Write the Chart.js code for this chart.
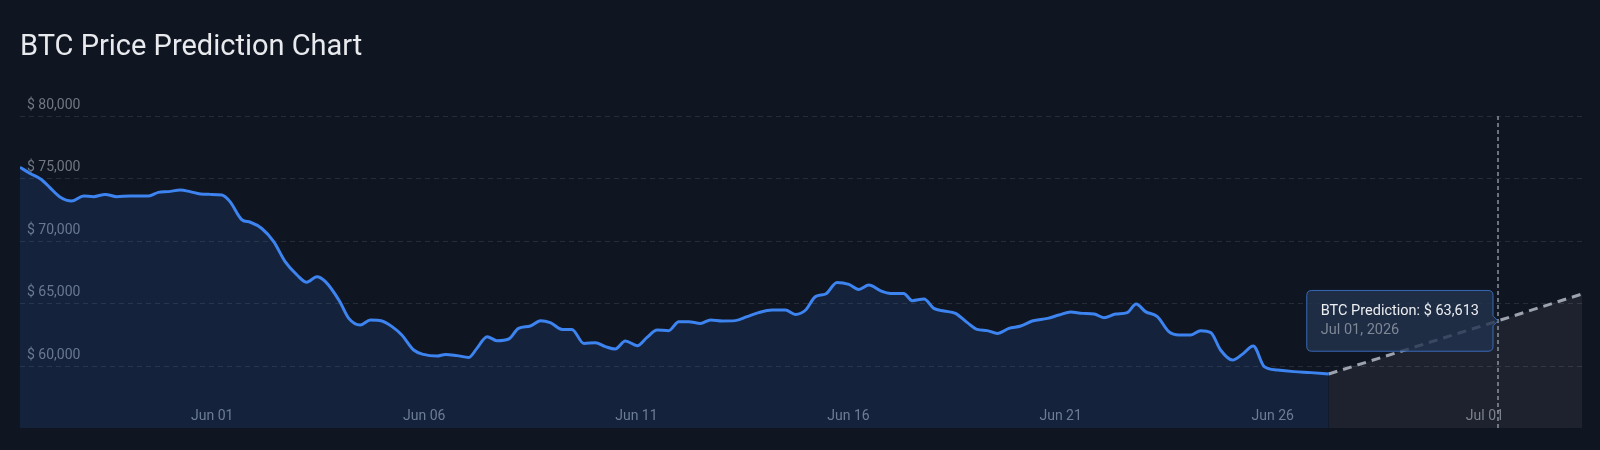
<!DOCTYPE html>
<html>
<head>
<meta charset="utf-8">
<title>BTC Price Prediction Chart</title>
<script src="https://cdn.jsdelivr.net/npm/chart.js@4.4.1/dist/chart.umd.min.js"></script>
<style>
  html, body { margin: 0; padding: 0; background: #0f1521; }
  #wrap { position: relative; width: 1600px; height: 450px; }
  #title {
    position: absolute; left: 20px; top: 31px;
    font: 400 29px/29px Roboto, sans-serif; color: #e8eaee;
  }
  canvas { position: absolute; left: 0; top: 0; }
</style>
</head>
<body>
<div id="wrap">
  <canvas id="chart" width="1600" height="450"></canvas>
  <div id="title">BTC Price Prediction Chart</div>
</div>
<script>
// x values are days counted from Jun 01 00:00 (negative = late May)
const histDay = [
  -4.53, -4.29, -4.02, -3.82, -3.58, -3.31, -3.03, -2.80, -2.52, -2.25,
  -1.93, -1.50, -1.27, -1.03, -0.75, -0.52, -0.28, -0.05, 0.23, 0.42,
  0.70, 0.90, 1.17, 1.45, 1.72, 2.00, 2.23, 2.47, 2.67, 3.00,
  3.22, 3.49, 3.73, 4.00, 4.24, 4.47, 4.75, 4.98, 5.30, 5.50,
  5.77, 6.05, 6.24, 6.48, 6.71, 6.99, 7.22, 7.50, 7.74, 7.97,
  8.25, 8.48, 8.76, 9.03, 9.27, 9.50, 9.74, 10.02, 10.25, 10.49,
  10.76, 11.00, 11.23, 11.51, 11.75, 12.02, 12.33, 12.61, 12.88, 13.20,
  13.51, 13.75, 13.99, 14.22, 14.46, 14.73, 15.01, 15.24, 15.48, 15.75,
  15.99, 16.30, 16.50, 16.78, 17.01, 17.25, 17.52, 17.80, 18.03, 18.27,
  18.51, 18.78, 19.06, 19.33, 19.69, 19.96, 20.24, 20.51, 20.79, 21.02,
  21.30, 21.57, 21.78, 22.00, 22.28, 22.55, 22.79, 23.07, 23.30, 23.54,
  23.77, 24.05, 24.28, 24.54, 24.80, 25.11, 25.50, 25.90, 26.32
];
const histPrice = [
  75900, 75400, 74900, 74250, 73500, 73200, 73600, 73550, 73730, 73550,
  73600, 73600, 73890, 73950, 74080, 73950, 73760, 73730, 73680, 73150,
  71700, 71500, 71000, 69950, 68350, 67280, 66700, 67150, 66750, 65200,
  63810, 63280, 63680, 63600, 63150, 62480, 61280, 60930, 60800, 60930,
  60830, 60690, 61410, 62350, 62030, 62160, 63010, 63200, 63630, 63470,
  62930, 62930, 61810, 61870, 61550, 61360, 62000, 61630, 62290, 62880,
  62830, 63550, 63550, 63410, 63680, 63600, 63630, 63950, 64270, 64480,
  64480, 64130, 64480, 65550, 65760, 66690, 66530, 66130, 66480, 66030,
  65810, 65810, 65230, 65360, 64610, 64400, 64210, 63470, 62930, 62830,
  62610, 63010, 63200, 63600, 63810, 64080, 64320, 64210, 64160, 63870,
  64160, 64270, 64960, 64350, 63950, 62750, 62480, 62480, 62830, 62670,
  61280, 60480, 60930, 61600, 59950, 59680, 59550, 59470, 59360
];

const predDay = [26.32, 30.31, 32.29];
const predPrice = [59360, 63613, 65760];
const predDates = ['Jun 27, 2026', 'Jul 01, 2026', 'Jul 03, 2026'];

const xTickDays = [0, 5, 10, 15, 20, 25, 30];
const xTickLabels = ['Jun 01', 'Jun 06', 'Jun 11', 'Jun 16', 'Jun 21', 'Jun 26', 'Jul 01'];
const yTicks = [60000, 65000, 70000, 75000, 80000];

const fmt = v => '$ ' + Math.round(v).toLocaleString('en-US');

Chart.defaults.font.family = 'Roboto';

// dashed vertical line under the active tooltip point
const crosshair = {
  id: 'crosshair',
  afterDatasetsDraw(chart) {
    const act = chart.tooltip.getActiveElements();
    if (!act.length) return;
    const x = act[0].element.x;
    const { top, bottom } = chart.chartArea;
    const ctx = chart.ctx;
    ctx.save();
    ctx.strokeStyle = '#8d939c';
    ctx.lineWidth = 1.5;
    ctx.setLineDash([4, 3]);
    ctx.beginPath();
    ctx.moveTo(x, top);
    ctx.lineTo(x, bottom);
    ctx.stroke();
    ctx.restore();
  }
};

const chart = new Chart(document.getElementById('chart'), {
  type: 'line',
  data: {
    datasets: [{
      label: 'BTC Price',
      data: histDay.map((d, i) => ({ x: d, y: histPrice[i] })),
      borderColor: '#3d84f0',
      borderWidth: 3,
      backgroundColor: 'rgba(59,130,246,0.12)',
      fill: 'start',
      pointRadius: 0,
      pointHoverRadius: 0,
      cubicInterpolationMode: 'monotone'
    }, {
      label: 'BTC Prediction',
      data: predDay.map((d, i) => ({ x: d, y: predPrice[i] })),
      borderColor: '#9ca3af',
      borderWidth: 3,
      borderDash: [9, 6],
      backgroundColor: 'rgba(255,255,255,0.06)',
      fill: 'start',
      pointRadius: 0,
      pointHoverRadius: 0,
      tension: 0
    }]
  },
  options: {
    responsive: false,
    animation: false,
    layout: { padding: { left: 20, right: 18, top: 116, bottom: 22 } },
    scales: {
      x: {
        type: 'linear',
        min: -4.53,
        max: 32.29,
        afterFit: s => { s.height = 0; },
        afterBuildTicks: s => { s.ticks = xTickDays.map(v => ({ value: v })); },
        grid: { display: false },
        border: { display: false },
        ticks: {
          mirror: true,
          padding: 3,
          color: '#757d89',
          font: { size: 14 },
          maxRotation: 0,
          autoSkip: false,
          callback: (v, i) => xTickLabels[i]
        }
      },
      y: {
        min: 55040,
        max: 80000,
        afterFit: s => { s.width = 0; },
        afterBuildTicks: s => { s.ticks = yTicks.map(v => ({ value: v })); },
        grid: { color: 'rgba(255,255,255,0.1)', drawTicks: false },
        border: { display: false, dash: [5, 4] },
        ticks: {
          mirror: true,
          padding: 7,
          labelOffset: -11,
          color: '#707884',
          font: { size: 14 },
          callback: v => fmt(v)
        }
      }
    },
    plugins: {
      legend: { display: false },
      tooltip: {
        xAlign: 'right',
        yAlign: 'center',
        caretSize: 5,
        caretPadding: 0,
        cornerRadius: 5,
        backgroundColor: 'rgba(34,50,78,0.8)',
        borderColor: 'rgba(62,118,205,0.85)',
        borderWidth: 1,
        padding: { x: 14, y: 12 },
        titleFont: { size: 14.5, weight: 'normal' },
        bodyFont: { size: 14.5 },
        titleColor: '#eceef1',
        bodyColor: '#7e8796',
        titleMarginBottom: 2,
        displayColors: false,
        callbacks: {
          title: items => items[0].dataset.label + ': ' + fmt(items[0].parsed.y),
          label: item => predDates[item.dataIndex]
        }
      }
    }
  },
  plugins: [crosshair]
});

const pt = chart.getDatasetMeta(1).data[1];
chart.tooltip.setActiveElements([{ datasetIndex: 1, index: 1 }], { x: pt.x, y: pt.y });
chart.update();
</script>
</body>
</html>
